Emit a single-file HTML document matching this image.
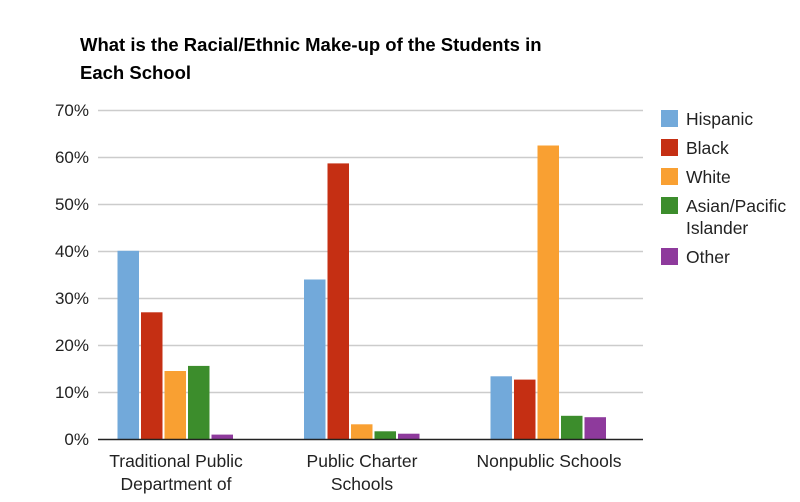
<!DOCTYPE html>
<html><head><style>body{margin:0;background:#fff}</style></head><body>
<svg width="800" height="497" xmlns="http://www.w3.org/2000/svg" font-family="Liberation Sans, Arial, sans-serif">
<rect width="800" height="497" fill="#fff"/>
<text x="80" y="51" font-size="18.5" font-weight="bold" fill="#000">What is the Racial/Ethnic Make-up of the Students in</text>
<text x="80" y="79" font-size="18.5" font-weight="bold" fill="#000">Each School</text>
<g stroke="#ccc" stroke-width="1.5">
<line x1="98" x2="643" y1="110.5" y2="110.5"/><line x1="98" x2="643" y1="157.5" y2="157.5"/>
<line x1="98" x2="643" y1="204.5" y2="204.5"/><line x1="98" x2="643" y1="251.5" y2="251.5"/>
<line x1="98" x2="643" y1="298.5" y2="298.5"/><line x1="98" x2="643" y1="345.5" y2="345.5"/>
<line x1="98" x2="643" y1="392.5" y2="392.5"/>
</g>
<g font-size="17" fill="#222" text-anchor="end">
<text x="89" y="116">70%</text><text x="89" y="163">60%</text><text x="89" y="210">50%</text>
<text x="89" y="257">40%</text><text x="89" y="304">30%</text><text x="89" y="351">20%</text>
<text x="89" y="398">10%</text><text x="89" y="445">0%</text>
</g>
<g id="bars">
<rect x="117.5" y="250.8" width="21.5" height="188.5" fill="#72a9da"/>
<rect x="141" y="312.3" width="21.5" height="127" fill="#c52f13"/>
<rect x="164.5" y="371" width="21.5" height="68.3" fill="#f9a032"/>
<rect x="188" y="365.9" width="21.5" height="73.4" fill="#3c8d2c"/>
<rect x="211.5" y="434.6" width="21.5" height="4.7" fill="#8e3a9c"/>

<rect x="304" y="279.5" width="21.5" height="159.8" fill="#72a9da"/>
<rect x="327.5" y="163.4" width="21.5" height="275.9" fill="#c52f13"/>
<rect x="351" y="424.3" width="21.5" height="15" fill="#f9a032"/>
<rect x="374.5" y="431.3" width="21.5" height="8" fill="#3c8d2c"/>
<rect x="398" y="433.7" width="21.5" height="5.6" fill="#8e3a9c"/>

<rect x="490.5" y="376.3" width="21.5" height="63" fill="#72a9da"/>
<rect x="514" y="379.6" width="21.5" height="59.7" fill="#c52f13"/>
<rect x="537.5" y="145.5" width="21.5" height="293.8" fill="#f9a032"/>
<rect x="561" y="415.8" width="21.5" height="23.5" fill="#3c8d2c"/>
<rect x="584.5" y="417.2" width="21.5" height="22.1" fill="#8e3a9c"/>
</g>
<line x1="98" x2="643" y1="439.5" y2="439.5" stroke="#222" stroke-width="1.5"/>
<g font-size="17.5" fill="#222" text-anchor="middle">
<text x="176" y="467">Traditional Public</text><text x="176" y="490">Department of</text>
<text x="362" y="467">Public Charter</text><text x="362" y="490">Schools</text>
<text x="549" y="467">Nonpublic Schools</text>
</g>
<g font-size="17.5" fill="#222">
<rect x="661" y="110" width="17" height="17" fill="#72a9da"/><text x="686" y="125">Hispanic</text>
<rect x="661" y="139" width="17" height="17" fill="#c52f13"/><text x="686" y="154">Black</text>
<rect x="661" y="168" width="17" height="17" fill="#f9a032"/><text x="686" y="183">White</text>
<rect x="661" y="197" width="17" height="17" fill="#3c8d2c"/><text x="686" y="212">Asian/Pacific</text>
<text x="686" y="234">Islander</text>
<rect x="661" y="248" width="17" height="17" fill="#8e3a9c"/><text x="686" y="263">Other</text>
</g>
</svg>
</body></html>
